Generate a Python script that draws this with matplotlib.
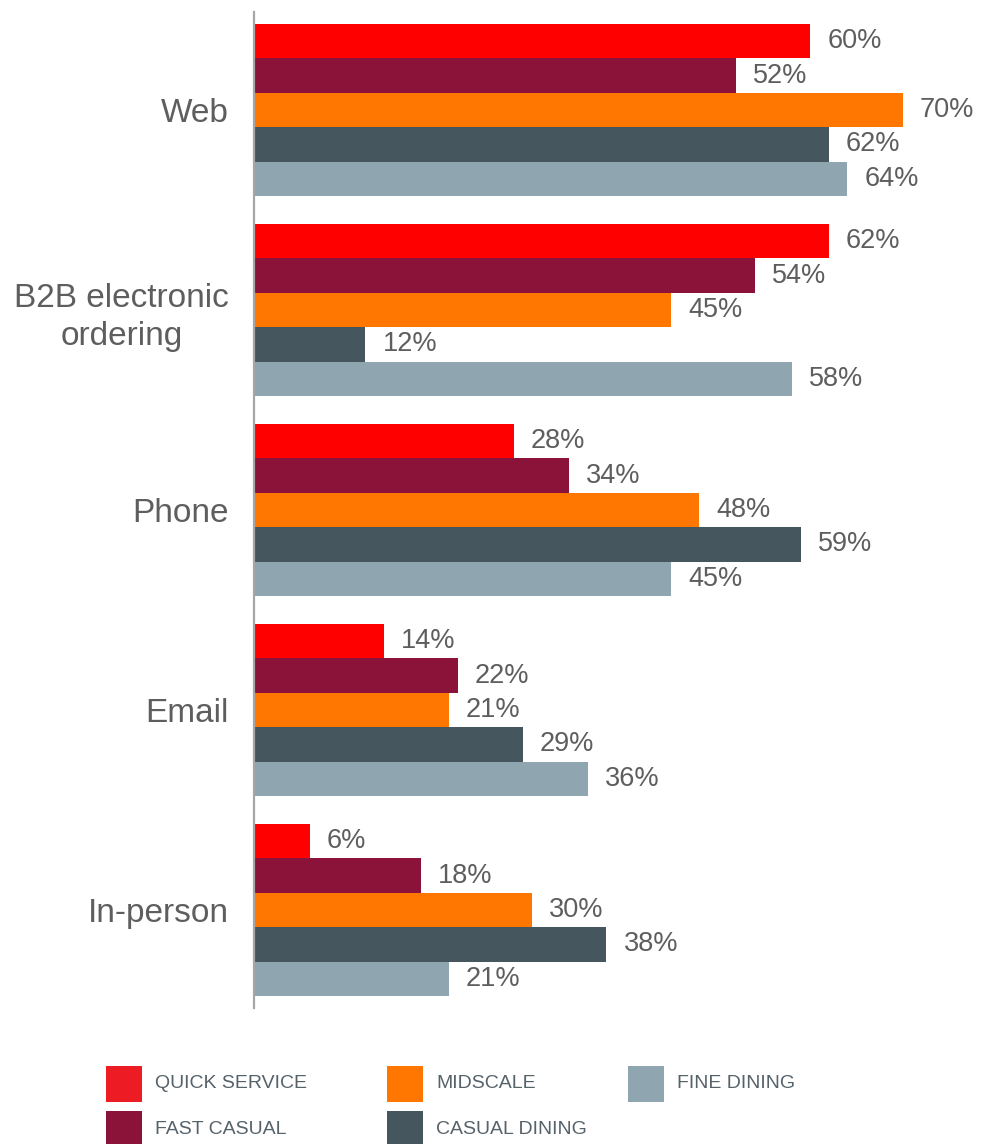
import matplotlib.pyplot as plt
import numpy as np
from matplotlib.patches import Rectangle

plt.rcParams['font.family'] = ['Liberation Sans', 'DejaVu Sans']

# Data
categories = ['Web', 'B2B electronic\nordering', 'Phone', 'Email', 'In-person']
series = ['QUICK SERVICE', 'FAST CASUAL', 'MIDSCALE', 'CASUAL DINING', 'FINE DINING']
quick_service = [60, 62, 28, 14, 6]
fast_casual = [52, 54, 34, 22, 18]
midscale = [70, 45, 48, 21, 30]
casual_dining = [62, 12, 59, 29, 38]
fine_dining = [64, 58, 45, 36, 21]
values = [quick_service, fast_casual, midscale, casual_dining, fine_dining]

bar_colors = ['#FF0000', '#8B1238', '#FF7700', '#46565E', '#8FA5B0']
legend_colors = ['#ED1C24', '#8B1238', '#FF7700', '#46565E', '#8FA5B0']
text_color = '#5E5E5E'
legend_text_color = '#56626A'

W, H = 986, 1144
fig = plt.figure(figsize=(W / 100, H / 100), dpi=100)

# axes placed in pixel coordinates
left, right, top, bottom = 254, 986, 12, 1008
ax = fig.add_axes([left / W, 1 - bottom / H, (right - left) / W, (bottom - top) / H])

bar_h = 0.172
y = np.arange(len(categories))
for i, (vals, col) in enumerate(zip(values, bar_colors)):
    ypos = y - 2 * bar_h + i * bar_h
    ax.barh(ypos, vals, height=bar_h, color=col, linewidth=0)
    for yy, v in zip(ypos, vals):
        ax.text(v + 1.85, yy, f'{v}%', va='center', ha='left',
                fontsize=19.5, color=text_color)

ax.set_xlim(0, (right - left) / 9.27)
ax.set_ylim(4.49, -0.49)
ax.set_yticks(y)
ax.set_yticklabels(categories, fontsize=24, color=text_color, linespacing=1.32)
for t in ax.get_yticklabels():
    t.set_multialignment('center')
ax.tick_params(axis='y', length=0, pad=18)
ax.set_xticks([])
for s in ['top', 'right', 'bottom']:
    ax.spines[s].set_visible(False)
ax.spines['left'].set_color('#A6A6A6')
ax.spines['left'].set_linewidth(1.6)

# legend drawn by hand: (square x, square top y) in pixels, column-major
legend_pos = [(106, 1066), (106, 1111), (387, 1066), (387, 1111), (628, 1066)]
sq = 36
for (px, py), name, col in zip(legend_pos, series, legend_colors):
    fig.add_artist(Rectangle((px / W, 1 - (py + sq) / H), sq / W, sq / H,
                             transform=fig.transFigure, facecolor=col,
                             edgecolor='none'))
    fig.text((px + sq + 13) / W, 1 - (py + sq / 2) / H, name, va='center',
             ha='left', fontsize=14, color=legend_text_color)

fig.savefig('out.png', dpi=100)
